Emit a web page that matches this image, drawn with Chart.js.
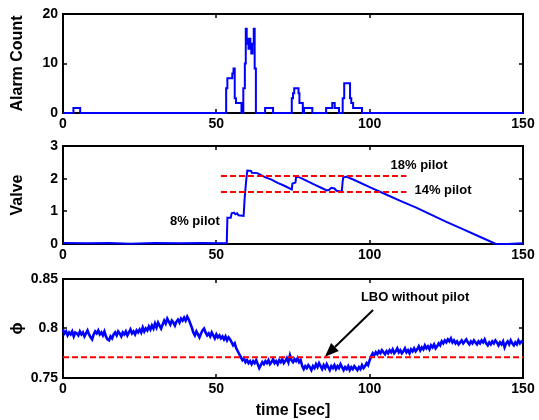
<!DOCTYPE html>
<html>
<head>
<meta charset="utf-8">
<script src="https://cdn.jsdelivr.net/npm/chart.js@4/dist/chart.umd.min.js"></script>
<style>
  html, body { margin: 0; padding: 0; background: #fff; }
  #wrap { position: relative; width: 539px; height: 420px; }
  #wrap canvas { position: absolute; left: 0; top: 0; }
</style>
</head>
<body>
<div id="wrap">
  <canvas id="alarm" width="539" height="420"></canvas>
  <canvas id="valve" width="539" height="420"></canvas>
  <canvas id="phi" width="539" height="420"></canvas>
</div>
<script>
// ---- data -------------------------------------------------------------
const timeTicks = [0, 50, 100, 150];

// alarm count (step signal: each value holds from its time to the next)
const alarmTimes  = [0, 3.4, 5.6, 53.2, 53.6, 55.2, 55.6, 56.0, 56.4, 58.2,
                     58.8, 59.3, 59.6, 59.9, 60.2, 60.5, 60.8, 61.1, 61.4, 61.8,
                     62.2, 62.5, 62.9, 65.9, 68.5, 74.6, 75.0, 75.4, 76.8, 77.1,
                     78.2, 78.6, 81.3, 85.8, 87.8, 88.6, 90.0, 91.2, 91.7, 93.6,
                     94.0, 94.6, 97.5, 150];
const alarmCounts = [0, 1, 0, 5, 7, 8, 9, 3, 2, 0,
                     5, 10, 17, 14, 15, 13, 15, 14, 12, 14,
                     17, 9, 0, 1, 0, 3, 4, 5, 4, 2,
                     0, 1, 0, 1, 2, 1, 0, 3, 6, 3,
                     2, 1, 0, 0];

// pilot valve position
const valveTimes = [0, 8, 15, 22, 30, 38, 45, 53.4, 53.6, 54.7,
                    55.0, 55.8, 56.2, 56.8, 57.2, 58.9, 59.2, 59.5, 59.8, 60.1,
                    61.3, 61.6, 63.4, 66, 68, 70, 72, 74.6, 74.8, 75.8,
                    76.0, 76.6, 78, 80, 82, 84, 86, 86.8, 87.5, 88.5,
                    89.2, 90.9, 91.2, 91.4, 92.5, 95, 100, 105, 110, 115,
                    120, 125, 130, 135, 141, 145, 150];
const valvePositions = [0.03, 0.02, 0.03, 0.01, 0.03, 0.02, 0.03, 0.02, 0.80, 0.80,
                        0.94, 0.96, 0.91, 0.94, 0.88, 0.86, 1.35, 1.70, 2.00, 2.25,
                        2.24, 2.18, 2.17, 2.04, 1.97, 1.87, 1.79, 1.67, 1.85, 1.88,
                        2.05, 2.06, 2.00, 1.91, 1.82, 1.73, 1.64, 1.66, 1.72, 1.70,
                        1.63, 1.60, 1.92, 2.04, 2.06, 1.96, 1.74, 1.53, 1.32, 1.12,
                        0.90, 0.68, 0.47, 0.26, 0.01, 0.00, 0.02];

// pilot levels shown as dashed reference lines
const pilotLabels = ['18% pilot', '14% pilot'];
const pilotLevels = [2.08, 1.59];
const pilotSpan   = [51.5, 112];

// equivalence ratio, sampled every 0.5 s from 0 to 150 s
const phiStep = 0.5;
const phiValues = [
  0.799, 0.795, 0.797, 0.793, 0.796, 0.794, 0.797, 0.792, 0.796, 0.795,
  0.793, 0.797, 0.794, 0.796, 0.792, 0.795, 0.798, 0.794, 0.791, 0.789,
  0.794, 0.797, 0.795, 0.798, 0.794, 0.796, 0.793, 0.797, 0.792, 0.789,
  0.788, 0.792, 0.790, 0.794, 0.796, 0.793, 0.797, 0.795, 0.792, 0.796,
  0.794, 0.797, 0.793, 0.796, 0.799, 0.795, 0.797, 0.794, 0.798, 0.796,
  0.799, 0.796, 0.801, 0.797, 0.800, 0.798, 0.802, 0.799, 0.803, 0.800,
  0.805, 0.801, 0.806, 0.803, 0.800, 0.804, 0.808, 0.805, 0.810, 0.807,
  0.804, 0.808, 0.806, 0.803, 0.807, 0.809, 0.806, 0.810, 0.808, 0.811,
  0.808, 0.812, 0.809, 0.805, 0.801, 0.796, 0.793, 0.797, 0.794, 0.791,
  0.795, 0.798, 0.800, 0.796, 0.793, 0.795, 0.792, 0.796, 0.793, 0.790,
  0.794, 0.791, 0.793, 0.790, 0.792, 0.789, 0.792, 0.788, 0.791, 0.789,
  0.786, 0.783, 0.785, 0.780, 0.777, 0.774, 0.771, 0.768, 0.770, 0.766,
  0.768, 0.765, 0.767, 0.764, 0.767, 0.765, 0.768, 0.764, 0.760, 0.763,
  0.766, 0.764, 0.767, 0.765, 0.768, 0.764, 0.766, 0.769, 0.765, 0.767,
  0.764, 0.768, 0.766, 0.769, 0.765, 0.767, 0.770, 0.766, 0.773, 0.768,
  0.766, 0.769, 0.767, 0.770, 0.766, 0.768, 0.762, 0.759, 0.762, 0.760,
  0.763, 0.761, 0.758, 0.762, 0.760, 0.764, 0.761, 0.765, 0.762, 0.759,
  0.763, 0.760, 0.764, 0.761, 0.758, 0.762, 0.760, 0.763, 0.759, 0.762,
  0.760, 0.764, 0.761, 0.758, 0.761, 0.759, 0.762, 0.758, 0.761, 0.759,
  0.762, 0.760, 0.758, 0.761, 0.759, 0.763, 0.760, 0.762, 0.765, 0.763,
  0.768, 0.772, 0.775, 0.773, 0.776, 0.774, 0.777, 0.775, 0.778, 0.776,
  0.774, 0.777, 0.775, 0.778, 0.776, 0.779, 0.775, 0.777, 0.780, 0.776,
  0.778, 0.775, 0.777, 0.780, 0.776, 0.778, 0.775, 0.779, 0.777, 0.780,
  0.777, 0.779, 0.782, 0.778, 0.781, 0.779, 0.783, 0.780, 0.782, 0.779,
  0.783, 0.781, 0.784, 0.780, 0.782, 0.785, 0.783, 0.787, 0.785, 0.788,
  0.786, 0.789, 0.787, 0.790, 0.786, 0.788, 0.785, 0.787, 0.784, 0.786,
  0.788, 0.785, 0.787, 0.789, 0.786, 0.784, 0.787, 0.785, 0.788, 0.786,
  0.784, 0.787, 0.785, 0.788, 0.786, 0.789, 0.785, 0.783, 0.786, 0.784,
  0.787, 0.785, 0.788, 0.786, 0.783, 0.786, 0.784, 0.787, 0.781, 0.785,
  0.787, 0.784, 0.788, 0.785, 0.783, 0.786, 0.784, 0.788, 0.785, 0.787,
  0.786
];
const lboLevel = 0.771;
const lboLabel = 'LBO without pilot';

// ---- styling ------------------------------------------------------------
Chart.defaults.font.family = "'Liberation Sans', Arial, Helvetica, sans-serif";
Chart.defaults.color = '#000';

const W = 539, H = 420;
const AREA_LEFT = 63, AREA_RIGHT = 523;
const BLUE = '#0000ff', RED = '#ff0000';
const tickFont  = { size: 14, weight: 'bold' };
const titleFont = { size: 16, weight: 'bold' };
const noteFont  = 'bold 13px "Liberation Sans", Arial, sans-serif';

// box around each axes with inward tick marks on all four sides
const axesFrame = {
  id: 'axesFrame',
  beforeDatasetsDraw(chart) {
    const { ctx, chartArea: a, scales: { x, y } } = chart;
    ctx.save();
    ctx.strokeStyle = '#000';
    ctx.lineWidth = 1.5;
    ctx.beginPath();
    x.ticks.forEach(t => {
      const p = Math.round(x.getPixelForValue(t.value));
      ctx.moveTo(p, a.bottom); ctx.lineTo(p, a.bottom - 4);
      ctx.moveTo(p, a.top);    ctx.lineTo(p, a.top + 4);
    });
    y.ticks.forEach(t => {
      const p = Math.round(y.getPixelForValue(t.value));
      ctx.moveTo(a.left, p);  ctx.lineTo(a.left + 4, p);
      ctx.moveTo(a.right, p); ctx.lineTo(a.right - 4, p);
    });
    ctx.stroke();
    ctx.lineWidth = 2;
    ctx.strokeRect(a.left, a.top, a.right - a.left, a.bottom - a.top);
    ctx.restore();
  }
};

// text labels and arrows placed in data coordinates
function notesPlugin(texts, arrows) {
  return {
    id: 'notes',
    afterDatasetsDraw(chart) {
      const { ctx, scales: { x, y } } = chart;
      ctx.save();
      ctx.fillStyle = '#000';
      ctx.font = noteFont;
      ctx.textAlign = 'center';
      ctx.textBaseline = 'middle';
      texts.forEach(n => ctx.fillText(n.text, x.getPixelForValue(n.x), y.getPixelForValue(n.y)));
      arrows.forEach(ar => {
        const x0 = x.getPixelForValue(ar.from[0]), y0 = y.getPixelForValue(ar.from[1]);
        const x1 = x.getPixelForValue(ar.to[0]),   y1 = y.getPixelForValue(ar.to[1]);
        const ang = Math.atan2(y1 - y0, x1 - x0);
        const len = 14, half = 5.5;
        const bx = x1 - len * Math.cos(ang), by = y1 - len * Math.sin(ang);
        ctx.strokeStyle = '#000';
        ctx.lineWidth = 2;
        ctx.beginPath();
        ctx.moveTo(x0, y0); ctx.lineTo(bx, by);
        ctx.stroke();
        ctx.beginPath();
        ctx.moveTo(x1, y1);
        ctx.lineTo(bx + half * Math.sin(ang), by - half * Math.cos(ang));
        ctx.lineTo(bx - half * Math.sin(ang), by + half * Math.cos(ang));
        ctx.closePath();
        ctx.fill();
      });
      ctx.restore();
    }
  };
}

function panel(id, cfg) {
  return new Chart(document.getElementById(id), {
    type: 'line',
    data: { datasets: cfg.datasets },
    options: {
      responsive: false,
      animation: false,
      events: [],
      layout: { padding: { top: cfg.top, bottom: H - cfg.bottom - cfg.xAxisH, left: 0, right: W - AREA_RIGHT } },
      plugins: { legend: { display: false }, tooltip: { enabled: false } },
      elements: { point: { radius: 0 }, line: { tension: 0 } },
      scales: {
        x: {
          type: 'linear',
          min: timeTicks[0], max: timeTicks[timeTicks.length - 1],
          afterFit: s => { s.height = cfg.xAxisH; },
          afterBuildTicks: s => { s.ticks = timeTicks.map(v => ({ value: v })); },
          ticks: { padding: 3, maxRotation: 0, autoSkip: false, font: tickFont },
          grid: { display: false, drawTicks: false },
          border: { display: false },
          title: cfg.xTitle
            ? { display: true, text: cfg.xTitle, font: titleFont, padding: { top: 0, bottom: 0 } }
            : { display: false }
        },
        y: {
          type: 'linear',
          min: cfg.yTicks[0], max: cfg.yTicks[cfg.yTicks.length - 1],
          afterFit: s => { s.width = AREA_LEFT; },
          afterBuildTicks: s => { s.ticks = cfg.yTicks.map(v => ({ value: v })); },
          ticks: { padding: 5, font: tickFont, callback: v => String(Number(v.toFixed(2))) },
          grid: { display: false, drawTicks: false },
          border: { display: false },
          title: { display: true, text: cfg.yTitle, font: titleFont, padding: { top: 8, bottom: 0 } }
        }
      }
    },
    plugins: [axesFrame, notesPlugin(cfg.texts || [], cfg.arrows || [])]
  });
}

const pts = (xs, ys) => xs.map((t, i) => ({ x: t, y: ys[i] }));

// ---- alarm count ---------------------------------------------------------
panel('alarm', {
  top: 14, bottom: 113, xAxisH: 22,
  yTicks: [0, 10, 20],
  yTitle: 'Alarm Count',
  datasets: [{
    data: pts(alarmTimes, alarmCounts),
    borderColor: BLUE, borderWidth: 2, stepped: 'before', clip: 3
  }]
});

// ---- valve position --------------------------------------------------------
panel('valve', {
  top: 146, bottom: 244, xAxisH: 22,
  yTicks: [0, 1, 2, 3],
  yTitle: 'Valve',
  datasets: [
    ...pilotLevels.map(v => ({
      data: pts(pilotSpan, [v, v]),
      borderColor: RED, borderWidth: 2, borderDash: [6, 3], order: 0
    })),
    {
      data: pts(valveTimes, valvePositions),
      borderColor: BLUE, borderWidth: 2, order: 1, clip: 3
    }
  ],
  texts: [
    { text: pilotLabels[0], x: 116.1, y: 2.42 },
    { text: pilotLabels[1], x: 123.9, y: 1.65 },
    { text: '8% pilot', x: 43, y: 0.70 }
  ]
});

// ---- equivalence ratio -----------------------------------------------------
panel('phi', {
  top: 279, bottom: 378, xAxisH: 42,
  yTicks: [0.75, 0.8, 0.85],
  yTitle: 'ϕ',
  xTitle: 'time [sec]',
  datasets: [
    {
      data: pts(timeTicks.filter((_, i) => i === 0 || i === timeTicks.length - 1), [lboLevel, lboLevel]),
      borderColor: RED, borderWidth: 2, borderDash: [6, 3], order: 0
    },
    {
      data: phiValues.map((v, i) => ({ x: i * phiStep, y: v })),
      borderColor: BLUE, borderWidth: 2.6, order: 1, clip: 3
    }
  ],
  texts: [{ text: lboLabel, x: 114.8, y: 0.8318 }],
  arrows: [{ from: [101.1, 0.8187], to: [85.4, 0.7715] }]
});
</script>
</body>
</html>
